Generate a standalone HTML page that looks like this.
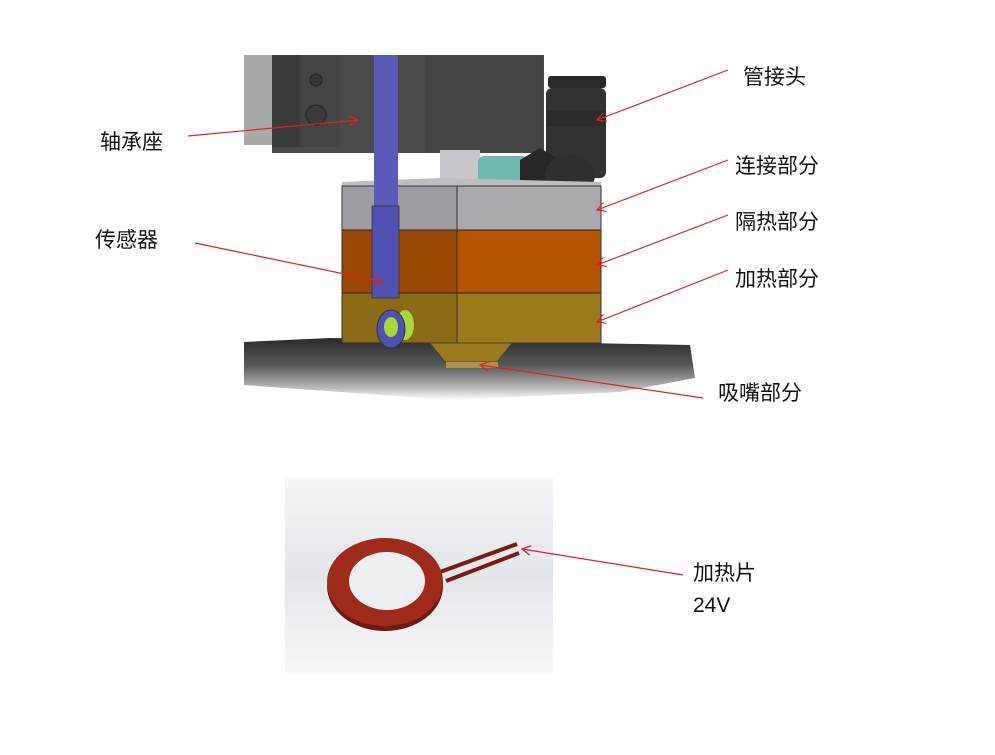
<!DOCTYPE html>
<html><head><meta charset="utf-8"><style>
html,body{margin:0;padding:0;background:#fff;}
svg{display:block;}
text{font-family:"Liberation Sans","Noto Sans CJK SC",sans-serif;font-size:21px;fill:#111;}
</style></head><body>
<svg width="995" height="755" viewBox="0 0 995 755" xmlns="http://www.w3.org/2000/svg">
<defs>
<linearGradient id="sh" x1="0" y1="0" x2="0" y2="1">
<stop offset="0" stop-color="#2a2a2a"/><stop offset="0.45" stop-color="#5a5a5a"/><stop offset="0.8" stop-color="#b8b8b8"/><stop offset="1" stop-color="#fff"/></linearGradient>
<linearGradient id="bg2" x1="0" y1="0" x2="0" y2="1">
<stop offset="0" stop-color="#f4f5f7"/><stop offset="0.5" stop-color="#e3e6eb"/><stop offset="1" stop-color="#f7f7f8"/></linearGradient>
<marker id="ar" markerWidth="10" markerHeight="10" refX="9" refY="5" orient="auto" markerUnits="userSpaceOnUse">
<path d="M0,0 L9,5 L0,10" fill="none" stroke="#e02020" stroke-width="1.2"/></marker>
</defs>
<!-- shadow -->
<polygon points="244,342 330,338 690,345 695,378 620,392 450,400 244,385" fill="url(#sh)"/>
<!-- left gray band -->
<rect x="244" y="55" width="40" height="90" fill="#a9a9a9"/>
<!-- dark block -->
<rect x="272" y="55" width="272" height="98" fill="#4a4a4a"/>
<rect x="272" y="55" width="28" height="92" fill="#3a3a3a"/>
<rect x="300" y="55" width="40" height="92" fill="#444"/>
<rect x="425" y="55" width="118" height="98" fill="#454545"/>
<circle cx="316" cy="80" r="6" fill="#333" stroke="#222"/>
<circle cx="316" cy="115" r="10" fill="#3a3a3a" stroke="#222"/>
<!-- column -->
<rect x="440" y="150" width="40" height="38" fill="#c8c8cc"/>
<!-- teal tube -->
<rect x="478" y="156" width="50" height="28" rx="6" fill="#6fb8b0"/>
<!-- fitting -->
<rect x="548" y="76" width="58" height="12" rx="3" fill="#2a2a2a"/>
<rect x="546" y="88" width="60" height="90" rx="6" fill="#333"/>
<rect x="546" y="110" width="60" height="16" fill="#2c2c2c"/>
<polygon points="520,160 540,148 560,160 560,190 540,198 520,188" fill="#262626"/>
<ellipse cx="570" cy="175" rx="25" ry="20" fill="#2f2f2f"/>
<!-- block -->
<polygon points="342,182 440,178 601,182 601,188 342,188" fill="#bdbdc2"/>
<rect x="342" y="186" width="259" height="44" fill="#a9a9ae"/>
<rect x="342" y="186" width="115" height="44" fill="#9d9da3"/>
<rect x="342" y="230" width="259" height="63" fill="#b45300"/>
<rect x="342" y="230" width="115" height="63" fill="#984600"/>
<rect x="342" y="293" width="259" height="50" fill="#9b7a1c"/>
<rect x="342" y="293" width="115" height="50" fill="#8a6c16"/>
<line x1="342" y1="230" x2="601" y2="230" stroke="#222"/>
<line x1="342" y1="293" x2="601" y2="293" stroke="#222"/>
<line x1="457" y1="186" x2="457" y2="343" stroke="#333"/>
<rect x="342" y="186" width="259" height="157" fill="none" stroke="#333"/>
<!-- nozzle -->
<polygon points="430,343 512,343 497,362 445,362" fill="#9b7a1c" stroke="#444"/>
<rect x="446" y="362" width="52" height="6" fill="#b09050"/>
<!-- sensor -->
<rect x="374" y="55" width="24" height="155" fill="#5a5ab8"/>
<rect x="372" y="206" width="27" height="92" fill="#5050b0" stroke="#333" stroke-width="0.8"/>
<ellipse cx="405" cy="325" rx="9" ry="15" fill="#a8d840"/>
<ellipse cx="391" cy="329" rx="14" ry="19" fill="#5050b0" stroke="#333"/>
<ellipse cx="391" cy="327" rx="7" ry="10" fill="#a8d840"/>
<!-- bottom image -->
<rect x="285" y="478" width="268" height="195" fill="url(#bg2)"/>
<line x1="440" y1="572" x2="517" y2="544" stroke="#7a1a10" stroke-width="4"/>
<line x1="446" y1="581" x2="519" y2="553" stroke="#7a1a10" stroke-width="4"/>
<ellipse cx="385" cy="586" rx="58" ry="45" fill="#6e1a10"/>
<ellipse cx="385" cy="582" rx="58" ry="44" fill="#a02a1a"/>
<ellipse cx="387" cy="581" rx="38" ry="29" fill="#eceef1"/>
<!-- arrows -->
<g stroke="#e02020" stroke-width="1.2" fill="none" marker-end="url(#ar)">
<line x1="188" y1="136" x2="358" y2="120"/>
<line x1="728" y1="70" x2="597" y2="120"/>
<line x1="728" y1="160" x2="597" y2="210"/>
<line x1="728" y1="215" x2="597" y2="265"/>
<line x1="728" y1="270" x2="597" y2="322"/>
<line x1="195" y1="243" x2="383" y2="282"/>
<line x1="703" y1="398" x2="480" y2="365"/>
<line x1="683" y1="575" x2="522" y2="549"/>
</g>
<text x="100" y="149">轴承座</text>
<text x="95" y="247">传感器</text>
<text x="743" y="84">管接头</text>
<text x="735" y="173">连接部分</text>
<text x="735" y="229">隔热部分</text>
<text x="735" y="286">加热部分</text>
<text x="718" y="400">吸嘴部分</text>
<text x="693" y="580">加热片</text>
<text x="693" y="612">24V</text>
</svg>
</body></html>
